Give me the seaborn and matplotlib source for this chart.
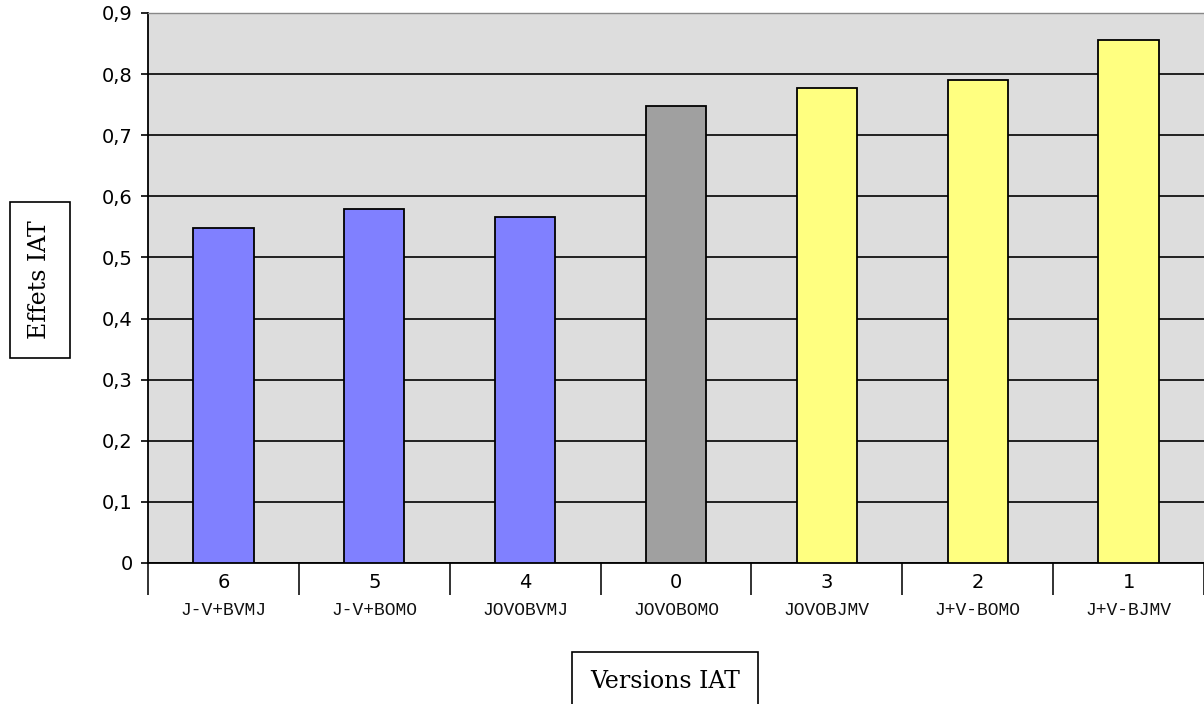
import numpy as np
import seaborn as sns
import matplotlib.pyplot as plt
from matplotlib.ticker import FuncFormatter, FixedLocator

# IAT versions (in display order), their codes, and measured effects
versions = ["6", "5", "4", "0", "3", "2", "1"]
codes = ["J-V+BVMJ", "J-V+BOMO", "JOVOBVMJ", "JOVOBOMO", "JOVOBJMV", "J+V-BOMO", "J+V-BJMV"]
effects = [0.548, 0.579, 0.566, 0.748, 0.777, 0.791, 0.856]
bar_colors = ["#8080FF", "#8080FF", "#8080FF", "#A0A0A0", "#FFFF80", "#FFFF80", "#FFFF80"]

sns.set_style("white")
plt.rcParams['font.family'] = ['DejaVu Sans']
plt.rcParams['text.color'] = 'black'
plt.rcParams['xtick.color'] = 'black'
plt.rcParams['ytick.color'] = 'black'

fig = plt.figure(figsize=(12.04, 7.04), dpi=100)
ax = fig.add_axes([148 / 1204, (704 - 563) / 704, 1 - 148 / 1204, 550 / 704])
ax.set_facecolor("#DDDDDD")

sns.barplot(x=versions, y=effects, hue=versions, order=versions,
            palette=dict(zip(versions, bar_colors)), width=0.4,
            edgecolor="black", linewidth=1.3, saturation=1,
            legend=False, ax=ax, zorder=3)

ax.set_xlim(-0.5, len(versions) - 0.5)
ax.set_ylim(0, 0.9)
ax.set_yticks(np.arange(0, 0.91, 0.1))
ax.yaxis.set_major_formatter(FuncFormatter(
    lambda v, p: "0" if abs(v) < 1e-9 else f"{v:.1f}".replace(".", ",")))

# horizontal grid
ax.yaxis.grid(True, color="black", linewidth=1.2, zorder=1)
ax.set_axisbelow(True)

for s in ["left", "bottom"]:
    ax.spines[s].set_color("black")
    ax.spines[s].set_linewidth(1.3)
ax.spines["top"].set_color("#888888")
ax.spines["top"].set_linewidth(1.0)
ax.spines["right"].set_visible(False)

ax.tick_params(axis="y", direction="out", length=5, width=1.2, color="black",
               left=True, labelsize=14, pad=6)

# x ticks: labels at bar centres, long separators between categories
ax.set_xticks(range(len(versions)))
ax.set_xticklabels(versions)
ax.xaxis.set_minor_locator(FixedLocator(np.arange(-0.5, len(versions), 1)))
ax.tick_params(axis="x", which="major", length=0, labelsize=14, pad=7)
ax.tick_params(axis="x", which="minor", direction="out", length=23, width=1.3,
               color="#222222", bottom=True)
ax.set_xlabel("")
ax.set_ylabel("")

for i, code in enumerate(codes):
    ax.text(i, -0.087, code, transform=ax.get_xaxis_transform(),
            ha="center", va="center", fontsize=13, family="Liberation Mono",
            color="#111111")

fig.text(40 / 1204, 1 - 280 / 704, "Effets IAT", rotation=90, ha="center", va="center",
         fontsize=17, family="DejaVu Serif",
         bbox=dict(boxstyle="square,pad=0.8", facecolor="white", edgecolor="black", linewidth=1.2))
fig.text(665 / 1204, 1 - 681 / 704, "Versions IAT", ha="center", va="center",
         fontsize=17, family="DejaVu Serif",
         bbox=dict(boxstyle="square,pad=0.75", facecolor="white", edgecolor="black", linewidth=1.2))

fig.savefig("out.png", dpi=100)
